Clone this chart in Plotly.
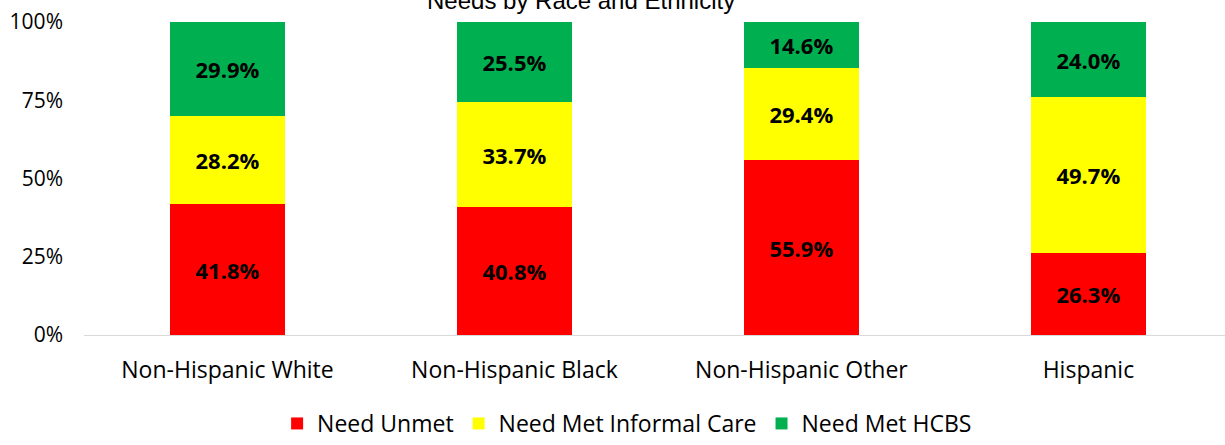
import plotly.graph_objects as go

categories = ["Non-Hispanic White", "Non-Hispanic Black", "Non-Hispanic Other", "Hispanic"]
need_unmet = [41.8, 40.8, 55.9, 26.3]
need_met_informal = [28.2, 33.7, 29.4, 49.7]
need_met_hcbs = [29.9, 25.5, 14.6, 24.0]
y_ticks = [0, 25, 50, 75, 100]
y_tick_labels = ["0%", "25%", "50%", "75%", "100%"]

series = [
    ("Need Unmet", need_unmet, "#FF0000"),
    ("Need Met Informal Care", need_met_informal, "#FFFF00"),
    ("Need Met HCBS", need_met_hcbs, "#00B050"),
]

FONT = "Open Sans"

fig = go.Figure()
for name, vals, color in series:
    fig.add_trace(go.Bar(
        name=name,
        x=categories,
        y=vals,
        width=0.4,
        marker=dict(color=color, line=dict(width=0)),
        text=[f"{v:.1f}%" for v in vals],
        textposition="inside",
        insidetextanchor="middle",
        textangle=0,
        textfont=dict(family=FONT, size=22, color="black", weight="bold"),
    ))

fig.update_layout(
    barmode="stack",
    width=1225,
    height=445,
    margin=dict(l=84, r=0, t=22, b=110, autoexpand=False),
    paper_bgcolor="white",
    plot_bgcolor="white",
    showlegend=True,
    legend=dict(
        orientation="h",
        x=0.476, xanchor="center",
        yref="container",
        y=0.0, yanchor="bottom",
        font=dict(family=FONT, size=23, color="black"),
        itemsizing="constant",
        traceorder="normal",
    ),
    uniformtext=dict(minsize=10, mode="show"),
    xaxis=dict(
        range=[-0.5, 3.476],
        showline=True, linecolor="#D9D9D9", linewidth=1,
        showgrid=False, ticks="",
        ticklabelstandoff=14,
        tickfont=dict(family=FONT, size=23, color="black"),
    ),
    yaxis=dict(
        range=[0, 100],
        tickvals=y_ticks, ticktext=y_tick_labels,
        showgrid=False, zeroline=False, showline=False,
        ticks="", ticklabelstandoff=20,
        tickfont=dict(family=FONT, size=21, color="black"),
    ),
    annotations=[dict(
        text="Needs by Race and Ethnicity",
        xref="paper", yref="paper",
        x=0.4356, y=1.070, xanchor="center", yanchor="middle",
        showarrow=False,
        font=dict(family="Liberation Sans", size=24, color="black"),
    )],
)

fig.write_html("out.html")
